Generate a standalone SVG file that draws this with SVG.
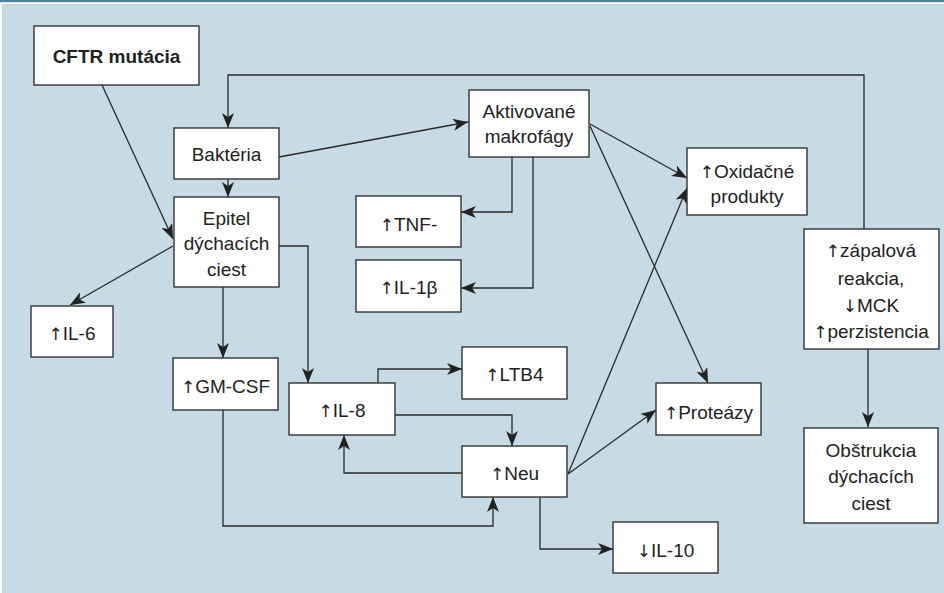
<svg xmlns="http://www.w3.org/2000/svg" width="944" height="593" viewBox="0 0 944 593">
<style>
.box{fill:#fff;stroke:#333;stroke-width:1.4}
.t{font-family:"Liberation Sans",Arial,sans-serif;font-size:19px;fill:#222;text-anchor:middle}
.b{font-weight:bold}
.ar{font-family:"DejaVu Sans",sans-serif;font-size:17px;fill:#222}
.c{fill:none;stroke:#2a2a2a;stroke-width:1.3}
</style>
<defs>
<marker id="ah" markerUnits="userSpaceOnUse" markerWidth="16" markerHeight="12" viewBox="0 0 16 12" refX="15" refY="6" orient="auto">
<path d="M0,0 L15,6 L0,12 L4,6 z" fill="#222"/>
</marker>
</defs>
<rect x="0" y="0" width="944" height="593" fill="#fff"/>
<rect x="2" y="4" width="942" height="589" fill="#c6dbe6"/>
<rect x="0" y="0" width="944" height="2.2" fill="#4f7f9e"/>

<g id="connectors">
<path class="c" marker-end="url(#ah)" d="M102,85 L173,239"/>
<path class="c" marker-end="url(#ah)" d="M864,229 V75 H228 V128"/>
<path class="c" marker-end="url(#ah)" d="M279,157 L468,122"/>
<path class="c" marker-end="url(#ah)" d="M228,179 V197"/>
<path class="c" marker-end="url(#ah)" d="M173,246 L70,305"/>
<path class="c" marker-end="url(#ah)" d="M223,287 V358"/>
<path class="c" marker-end="url(#ah)" d="M279,246 H308 V383"/>
<path class="c" marker-end="url(#ah)" d="M512,157 V212 H461"/>
<path class="c" marker-end="url(#ah)" d="M533,157 V288 H461"/>
<path class="c" marker-end="url(#ah)" d="M590,124 L687,178"/>
<path class="c" marker-end="url(#ah)" d="M590,126 L708,383"/>
<path class="c" marker-end="url(#ah)" d="M568,474 L687,188"/>
<path class="c" marker-end="url(#ah)" d="M568,474 L656,410"/>
<path class="c" marker-end="url(#ah)" d="M378,383 V369 H462"/>
<path class="c" marker-end="url(#ah)" d="M395,415 H512 V446"/>
<path class="c" marker-end="url(#ah)" d="M462,473 H344 V435"/>
<path class="c" marker-end="url(#ah)" d="M223,410 V526 H493 V497"/>
<path class="c" marker-end="url(#ah)" d="M540,497 V549 H613"/>
<path class="c" marker-end="url(#ah)" d="M868,349 V427"/>
</g>

<g id="cftr"><rect class="box" x="34" y="26" width="165" height="59"/><text class="t b" x="116.5" y="63">CFTR mutácia</text></g>
<g id="bakteria"><rect class="box" x="174" y="128" width="105" height="51"/><text class="t" x="226.5" y="161">Baktéria</text></g>
<g id="makrofagy"><rect class="box" x="469" y="90" width="120" height="67"/><text class="t" x="529" y="118">Aktivované</text><text class="t" x="529" y="143">makrofágy</text></g>
<g id="epitel"><rect class="box" x="174" y="197" width="105" height="90"/><text class="t" x="226.5" y="225">Epitel</text><text class="t" x="226.5" y="250">dýchacích</text><text class="t" x="226.5" y="276">ciest</text></g>
<g id="il6"><rect class="box" x="31" y="306" width="82" height="51"/><text class="t" x="72" y="340"><tspan class="ar">↑</tspan>IL-6</text></g>
<g id="tnf"><rect class="box" x="356" y="196" width="105" height="51"/><text class="t" x="408.5" y="231"><tspan class="ar">↑</tspan>TNF-</text></g>
<g id="il1b"><rect class="box" x="356" y="260" width="105" height="52"/><text class="t" x="408.5" y="294"><tspan class="ar">↑</tspan>IL-1β</text></g>
<g id="oxid"><rect class="box" x="687" y="148" width="120" height="67"/><text class="t" x="747" y="178"><tspan class="ar">↑</tspan>Oxidačné</text><text class="t" x="747" y="203">produkty</text></g>
<g id="zapal"><rect class="box" x="804" y="229" width="135" height="120"/><text class="t" x="871" y="257"><tspan class="ar">↑</tspan>zápalová</text><text class="t" x="871" y="285">reakcia,</text><text class="t" x="871" y="312"><tspan class="ar">↓</tspan>MCK</text><text class="t" x="871" y="338"><tspan class="ar">↑</tspan>perzistencia</text></g>
<g id="gmcsf"><rect class="box" x="173" y="358" width="105" height="52"/><text class="t" x="225.5" y="393"><tspan class="ar">↑</tspan>GM-CSF</text></g>
<g id="il8"><rect class="box" x="289" y="383" width="106" height="52"/><text class="t" x="342" y="417"><tspan class="ar">↑</tspan>IL-8</text></g>
<g id="ltb4"><rect class="box" x="462" y="347" width="105" height="52"/><text class="t" x="514.5" y="381"><tspan class="ar">↑</tspan>LTB4</text></g>
<g id="neu"><rect class="box" x="462" y="446" width="105" height="51"/><text class="t" x="514.5" y="480"><tspan class="ar">↑</tspan>Neu</text></g>
<g id="proteazy"><rect class="box" x="656" y="383" width="105" height="52"/><text class="t" x="708.5" y="419"><tspan class="ar">↑</tspan>Proteázy</text></g>
<g id="il10"><rect class="box" x="613" y="522" width="105" height="51"/><text class="t" x="665.5" y="557"><tspan class="ar">↓</tspan>IL-10</text></g>
<g id="obstrukcia"><rect class="box" x="804" y="428" width="134" height="95"/><text class="t" x="871" y="457">Obštrukcia</text><text class="t" x="871" y="483">dýchacích</text><text class="t" x="871" y="510">ciest</text></g>
</svg>
